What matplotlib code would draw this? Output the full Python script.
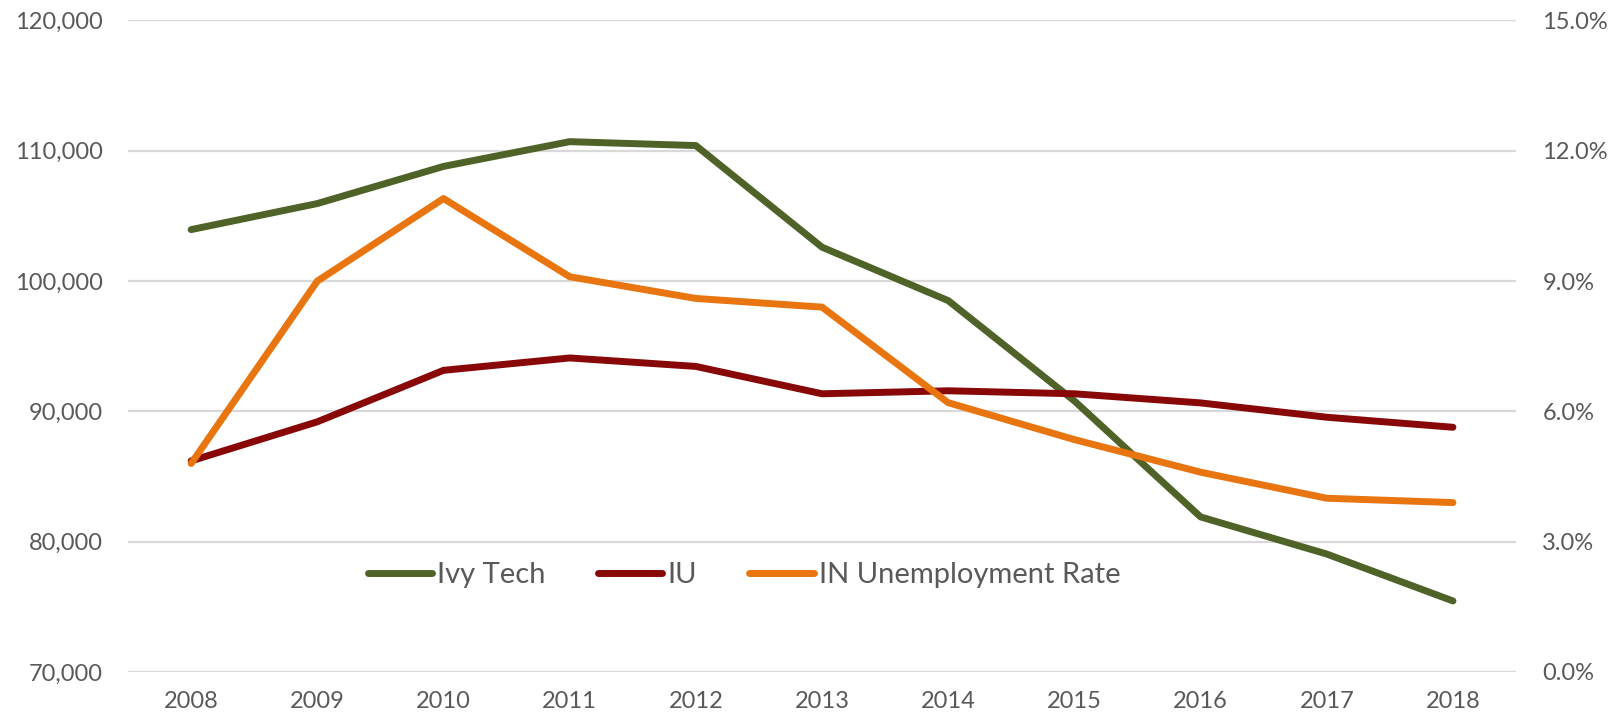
import matplotlib
matplotlib.use("Agg")
import matplotlib.pyplot as plt
from matplotlib.ticker import FuncFormatter

years = [2008, 2009, 2010, 2011, 2012, 2013, 2014, 2015, 2016, 2017, 2018]
ivy_tech = [103950, 105950, 108800, 110700, 110400, 102600, 98500, 90800, 81900, 79050, 75450]
iu = [86200, 89200, 93150, 94100, 93450, 91350, 91580, 91350, 90650, 89550, 88780]
unemployment = [4.8, 9.0, 10.9, 9.1, 8.6, 8.4, 6.2, 5.35, 4.6, 4.0, 3.9]

left_ticks = [70000, 80000, 90000, 100000, 110000, 120000]
right_ticks = [0, 3, 6, 9, 12, 15]

GREEN = "#4F6228"
RED = "#880808"
ORANGE = "#E8750F"
TEXT = "#595959"
GRID = "#D9D9D9"

plt.rcParams["font.family"] = ["Lato", "DejaVu Sans"]

fig = plt.figure(figsize=(16.19, 7.21), dpi=100)
ax = fig.add_axes([0.0791, 0.068, 0.8573, 0.9036])
ax2 = ax.twinx()

ax.set_ylim(70000, 120000)
ax2.set_ylim(0, 15)
ax.set_xlim(2007.5, 2018.5)

ax.set_yticks(left_ticks)
ax2.set_yticks(right_ticks)
ax.set_xticks(years)
ax.yaxis.set_major_formatter(FuncFormatter(lambda v, p: f"{v:,.0f}"))
ax2.yaxis.set_major_formatter(FuncFormatter(lambda v, p: f"{v:.1f}%"))

for a in (ax, ax2):
    for s in a.spines.values():
        s.set_visible(False)
    a.tick_params(length=0, labelsize=17, labelcolor=TEXT)
ax.tick_params(axis="y", pad=18)
ax2.tick_params(axis="y", pad=19)
ax.tick_params(axis="x", pad=14)

ax.grid(axis="y", color=GRID, linewidth=1.6)
ax.set_axisbelow(True)

l1, = ax.plot(years, ivy_tech, color=GREEN, lw=5, solid_capstyle="round",
              solid_joinstyle="round", label="Ivy Tech", zorder=3)
l2, = ax.plot(years, iu, color=RED, lw=5, solid_capstyle="round",
              solid_joinstyle="round", label="IU", zorder=3)
l3, = ax2.plot(years, unemployment, color=ORANGE, lw=5, solid_capstyle="round",
               solid_joinstyle="round", label="IN Unemployment Rate", zorder=3)

leg = ax2.legend(handles=[l1, l2, l3], loc="center left", bbox_to_anchor=(0.173, 0.149),
                 ncol=3, frameon=False, fontsize=21, handlelength=2.2,
                 handletextpad=0.17, columnspacing=1.8, borderaxespad=0,
                 borderpad=0, labelcolor=TEXT)

fig.savefig("out.png", dpi=100)
